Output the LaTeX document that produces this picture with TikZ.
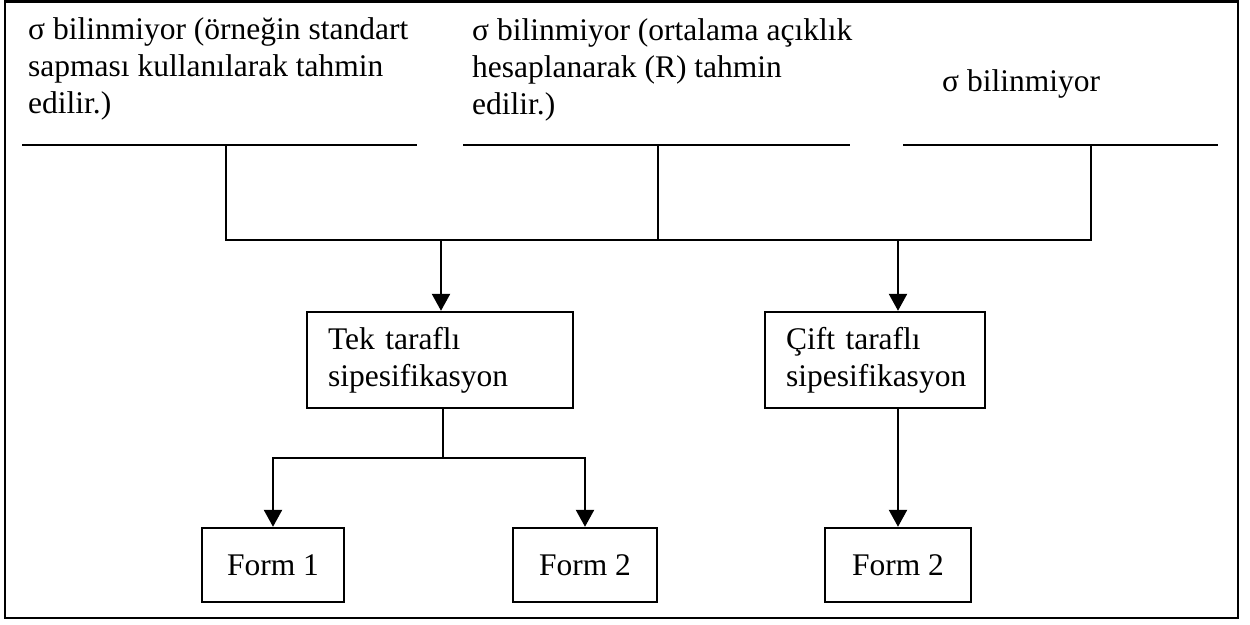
\documentclass[tikz,border=0pt]{standalone}
\usepackage{fontspec}
\setmainfont{Liberation Serif}
\usetikzlibrary{arrows.meta}
\begin{document}
\begin{tikzpicture}[x=1pt,y=-1pt,
  every node/.style={font=\fontsize{31.5}{37}\selectfont},
  ln/.style={line width=2.4pt},
  arr/.style={line width=2.4pt,-{Triangle[length=17pt,width=18pt]}},
  specbox/.style={draw,line width=2.4pt,minimum height=96pt,align=left,inner ysep=0pt,inner xsep=21pt},
  formbox/.style={draw,line width=2.4pt,minimum height=74pt,inner xsep=0pt},
  txt/.style={anchor=base west,inner sep=0pt,align=left}]
\useasboundingbox (0,0) rectangle (1250,624);
\draw[ln] (5,1.5) rectangle (1238,618);
% top texts (anchor at the baseline of the last line)
\node[txt] (t1) at (28,113) {σ bilinmiyor (örneğin standart\\sapması kullanılarak tahmin\\edilir.)};
\node[txt] (t2) at (472,114) {σ bilinmiyor (ortalama açıklık\\hesaplanarak (R) tahmin\\edilir.)};
\node[txt] (t3) at (942,91) {σ bilinmiyor};
% underlines
\coordinate (u1L) at (22,145);  \coordinate (u1R) at (417,145);  \coordinate (u1M) at (226,145);
\coordinate (u2L) at (463,145); \coordinate (u2R) at (850,145);  \coordinate (u2M) at (658,145);
\coordinate (u3L) at (903,145); \coordinate (u3R) at (1218,145); \coordinate (u3M) at (1091,145);
\coordinate (barL) at (226,240); \coordinate (barR) at (1091,240);
\coordinate (a1) at (441,240); \coordinate (a2) at (898,240);
\draw[ln] (u1L) -- (u1R);
\draw[ln] (u2L) -- (u2R);
\draw[ln] (u3L) -- (u3R);
\draw[ln] (u1M) -- (barL) -- (barR) -- (u3M);
\draw[ln] (u2M) -- (u2M |- barL);
% spec boxes
\node[specbox,text width=224pt] (b1) at (440,360) {Tek taraflı\\sipesifikasyon};
\node[specbox,text width=178pt] (b2) at (875,360) {Çift taraflı\\sipesifikasyon};
\draw[arr] (a1) -- (a1 |- b1.north);
\draw[arr] (a2) -- (a2 |- b2.north);
% form boxes
\node[formbox,minimum width=142pt] (f1) at (273,565) {Form 1};
\node[formbox,minimum width=144pt] (f2) at (585,565) {Form 2};
\node[formbox,minimum width=146pt] (f3) at (898,565) {Form 2};
\coordinate (s1) at (443,458);
\draw[ln] (b1.south -| s1) -- (s1);
\draw[arr] (s1) -- (f1.north |- s1) -- (f1.north);
\draw[arr] (s1) -- (f2.north |- s1) -- (f2.north);
\draw[arr] (a2 |- b2.south) -- (a2 |- f3.north);
\end{tikzpicture}
\end{document}
